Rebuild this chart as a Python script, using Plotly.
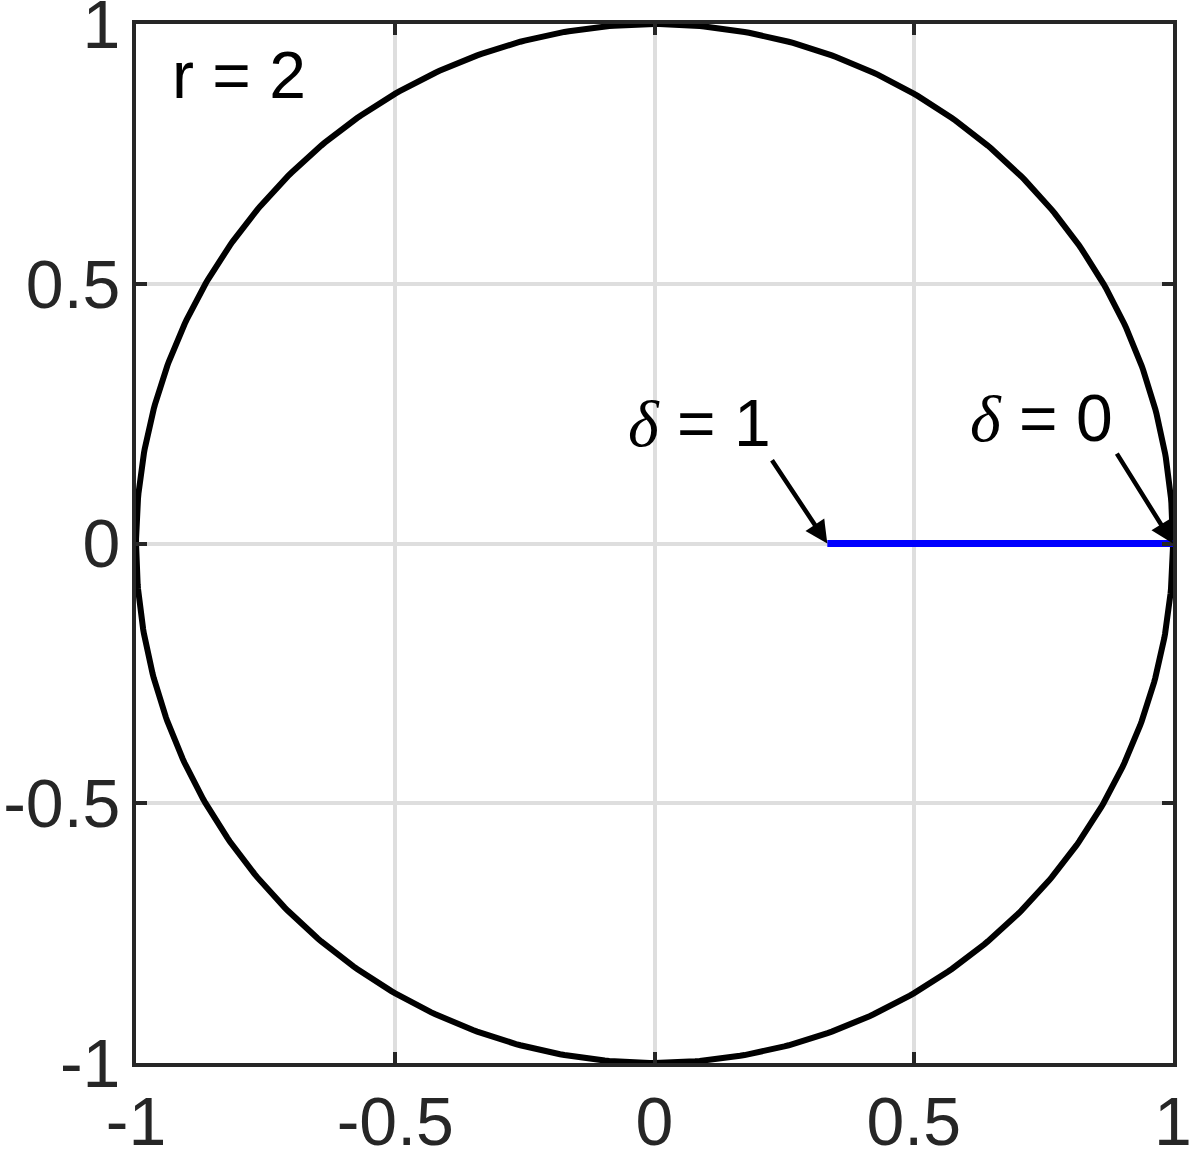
import numpy as np
import plotly.graph_objects as go

# Data
r_value = 2
radius = 1.0
n_pts = 721
theta = np.linspace(0, 2 * np.pi, n_pts)
circle_x = radius * np.cos(theta)
circle_y = radius * np.sin(theta)

delta_vals = [0.0, 1.0]
seg_x = [(r_value - d) / (r_value + d) for d in delta_vals]  # 1 -> 1/3
seg_y = [0.0, 0.0]

tick_vals = [-1, -0.5, 0, 0.5, 1]
tick_text = ["-1", "-0.5", "0", "0.5", "1"]

# annotation anchor points (label positions and arrow tails)
label_r = dict(x=-0.934, y=0.902)
label_d1 = dict(x=0.086, y=0.232, tail_x=0.2247, tail_y=0.163)
label_d0 = dict(x=0.747, y=0.242, tail_x=0.890, tail_y=0.176)

fig = go.Figure()
fig.add_trace(go.Scatter(x=circle_x, y=circle_y, mode="lines",
                         line=dict(color="black", width=6), hoverinfo="skip"))
fig.add_trace(go.Scatter(x=seg_x, y=seg_y, mode="lines",
                         line=dict(color="#0000ff", width=7), hoverinfo="skip"))

eps = 1e-4
axis_common = dict(
    range=[-1 - eps, 1 + eps], tickvals=tick_vals, ticktext=tick_text,
    showgrid=True, gridcolor="#dedede", gridwidth=4,
    zeroline=False, showline=True, linecolor="#262626", linewidth=4,
    mirror="ticks", ticks="inside", ticklen=11, tickwidth=4, tickcolor="#262626",
    tickfont=dict(family="Liberation Sans, Arial", size=68, color="#262626"),
    automargin=False, ticklabeloverflow="allow",
)

fig.update_xaxes(**axis_common, ticklabelstandoff=-4)
fig.update_yaxes(**axis_common, ticklabelstandoff=-2)

delta_span = "<span style='font-family:Liberation Serif, Times New Roman'><i>δ</i></span>"
text_font = dict(family="Liberation Sans, Arial", size=66, color="black")

annotations = [
    dict(x=label_r["x"], y=label_r["y"], xref="x", yref="y", text="r = 2",
         showarrow=False, xanchor="left", yanchor="middle",
         font=dict(family="Liberation Sans, Arial", size=66, color="black")),
    dict(x=label_d1["x"], y=label_d1["y"], xref="x", yref="y",
         text=delta_span + " = 1", showarrow=False, xanchor="center", yanchor="middle",
         font=text_font),
    dict(x=label_d0["x"], y=label_d0["y"], xref="x", yref="y",
         text=delta_span + " = 0", showarrow=False, xanchor="center", yanchor="middle",
         font=text_font),
    dict(x=seg_x[1], y=seg_y[1], xref="x", yref="y",
         ax=label_d1["tail_x"], ay=label_d1["tail_y"], axref="x", ayref="y",
         text="", showarrow=True, arrowhead=2, arrowsize=1, arrowwidth=4.5,
         arrowcolor="black", standoff=0),
    dict(x=seg_x[0], y=seg_y[0], xref="x", yref="y",
         ax=label_d0["tail_x"], ay=label_d0["tail_y"], axref="x", ayref="y",
         text="", showarrow=True, arrowhead=2, arrowsize=1, arrowwidth=4.5,
         arrowcolor="black", standoff=0),
]

fig.update_layout(
    width=1190, height=1156,
    margin=dict(l=136, r=17, t=24, b=93, pad=0),
    plot_bgcolor="white", paper_bgcolor="white",
    showlegend=False, annotations=annotations,
)

fig.write_html(
    "out.html",
    config={"displayModeBar": False},
    post_script="document.body.style.margin='0';document.body.style.overflow='hidden';",
)
